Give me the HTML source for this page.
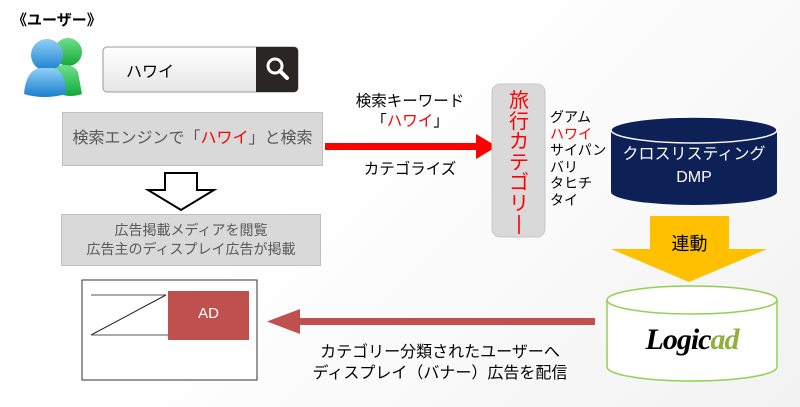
<!DOCTYPE html>
<html><head><meta charset="utf-8"><style>
body{margin:0;width:800px;height:407px;overflow:hidden;background:linear-gradient(135deg,#fff 0%,#fff 40%,#f2f2f2 100%);font-family:"Liberation Sans","Noto Sans CJK JP",sans-serif;position:relative}
.a{position:absolute}
.g{background:#d9d9d9;border:1px solid #bfbfbf;color:#595959;text-align:center}
</style></head><body>
<div class="a" style="left:12px;top:9px;font-size:15px;font-weight:bold;color:#000">《ユーザー》</div>
<svg class="a" style="left:0;top:0" width="800" height="407">
<defs>
<linearGradient id="bl" x1="0" y1="0" x2="0" y2="1"><stop offset="0" stop-color="#8fd0f5"/><stop offset="1" stop-color="#1a7fd0"/></linearGradient>
<linearGradient id="gr" x1="0" y1="0" x2="0" y2="1"><stop offset="0" stop-color="#6fe08a"/><stop offset="1" stop-color="#14a83a"/></linearGradient>
<linearGradient id="sb" x1="0" y1="0" x2="0" y2="1"><stop offset="0" stop-color="#fff"/><stop offset="1" stop-color="#e6e6e6"/></linearGradient>
</defs>
<circle cx="68" cy="52" r="14" fill="url(#gr)"/>
<path d="M56 66 Q72 62 78 72 L82 94 Q70 98 60 94 Z" fill="url(#gr)"/>
<circle cx="47" cy="55" r="16" fill="url(#bl)"/>
<path d="M24 94 Q26 70 40 68 L54 68 Q66 72 66 94 Q44 100 24 94 Z" fill="url(#bl)"/>
<rect x="103" y="47" width="195" height="45" rx="4" fill="url(#sb)" stroke="#999"/>
<path d="M256 47 H294 a4 4 0 0 1 4 4 V88 a4 4 0 0 1 -4 4 H256 Z" fill="#2a2626"/>
<circle cx="275" cy="66" r="7" fill="none" stroke="#fff" stroke-width="3"/>
<line x1="280" y1="71" x2="287" y2="78" stroke="#fff" stroke-width="4" stroke-linecap="round"/>
<rect x="325" y="143" width="155" height="7" fill="#f00"/>
<polygon points="476,134 497,146.5 476,159" fill="#f00"/>
<polygon points="165,173 197,173 197,190 214,190 181,210 148,190 165,190" fill="#fff" stroke="#000" stroke-width="2"/>
<rect x="82" y="280" width="175" height="100" fill="#fff" stroke="#333"/>
<line x1="91" y1="295" x2="166" y2="295" stroke="#555"/>
<line x1="166" y1="295" x2="91" y2="335" stroke="#222"/>
<line x1="91" y1="335" x2="170" y2="335" stroke="#555"/>
<rect x="168" y="291" width="81" height="49" fill="#c0504d"/>
<rect x="295" y="318" width="300" height="7" fill="#c0504d"/>
<polygon points="267,321.5 300,309 300,334" fill="#c0504d"/>
<rect x="492" y="84" width="53" height="153" rx="8" fill="#d9d9d9" stroke="#c8c8c8"/>
<path d="M611 130 V192 A83 13 0 0 0 777 192 V130 Z" fill="#0d2156"/>
<ellipse cx="694" cy="130" rx="83" ry="13" fill="#0d2156" stroke="#fff" stroke-width="1.5"/>
<polygon points="650,216 729,216 729,249 767,249 689,282 611,249 650,249" fill="#ffc000"/>
<path d="M607 300 V367 A85 14 0 0 0 777 367 V300" fill="#fff" stroke="#92d050" stroke-width="1.5"/>
<ellipse cx="692" cy="300" rx="85" ry="14" fill="#fff" stroke="#92d050" stroke-width="1.5"/>
</svg>
<div class="a" style="left:126px;top:58px;font-size:16px;color:#000">ハワイ</div>
<div class="a g" style="left:62px;top:112px;width:259px;height:52px;line-height:52px;font-size:16px">検索エンジンで「<span style="color:#f00">ハワイ</span>」と検索</div>
<div class="a g" style="left:61px;top:214px;width:260px;height:52px;font-size:14px;line-height:19px;box-sizing:border-box;display:flex;align-items:center;justify-content:center">広告掲載メディアを閲覧<br>広告主のディスプレイ広告が掲載</div>
<div class="a" style="left:330px;top:92px;width:160px;text-align:center;font-size:15.5px;line-height:20px;color:#000">検索キーワード<br>「<span style="color:#f00">ハワイ</span>」</div>
<div class="a" style="left:330px;top:157px;width:160px;text-align:center;font-size:15.5px;color:#000">カテゴライズ</div>
<div class="a" style="left:507px;top:91px;width:24px;font-size:20px;line-height:20.5px;color:#f00;text-align:center">旅<br>行<br>カ<br>テ<br>ゴ<br>リ<br>|</div>
<div class="a" style="left:550px;top:109px;font-size:14px;line-height:16.5px;color:#000">グアム<br><span style="color:#f00">ハワイ</span><br>サイパン<br>バリ<br>タヒチ<br>タイ</div>
<div class="a" style="left:611px;top:143px;width:166px;text-align:center;font-size:16px;line-height:23px;color:#fff">クロスリスティング<br>DMP</div>
<div class="a" style="left:650px;top:230px;width:79px;text-align:center;font-size:18px;color:#000">連動</div>
<div class="a" style="left:607px;top:323px;width:170px;text-align:center;font-size:30px;font-weight:bold;font-family:'Liberation Serif',serif;font-style:italic;letter-spacing:-1px"><span style="color:#000">Logic</span><span style="color:#8db13a">ad</span></div>
<div class="a" style="left:168px;top:305px;width:81px;text-align:center;font-size:15px;color:#fff">AD</div>
<div class="a" style="left:280px;top:342px;width:320px;text-align:center;font-size:16px;line-height:21px;color:#000">カテゴリー分類されたユーザーへ<br>ディスプレイ（バナー）広告を配信</div>
</body></html>
